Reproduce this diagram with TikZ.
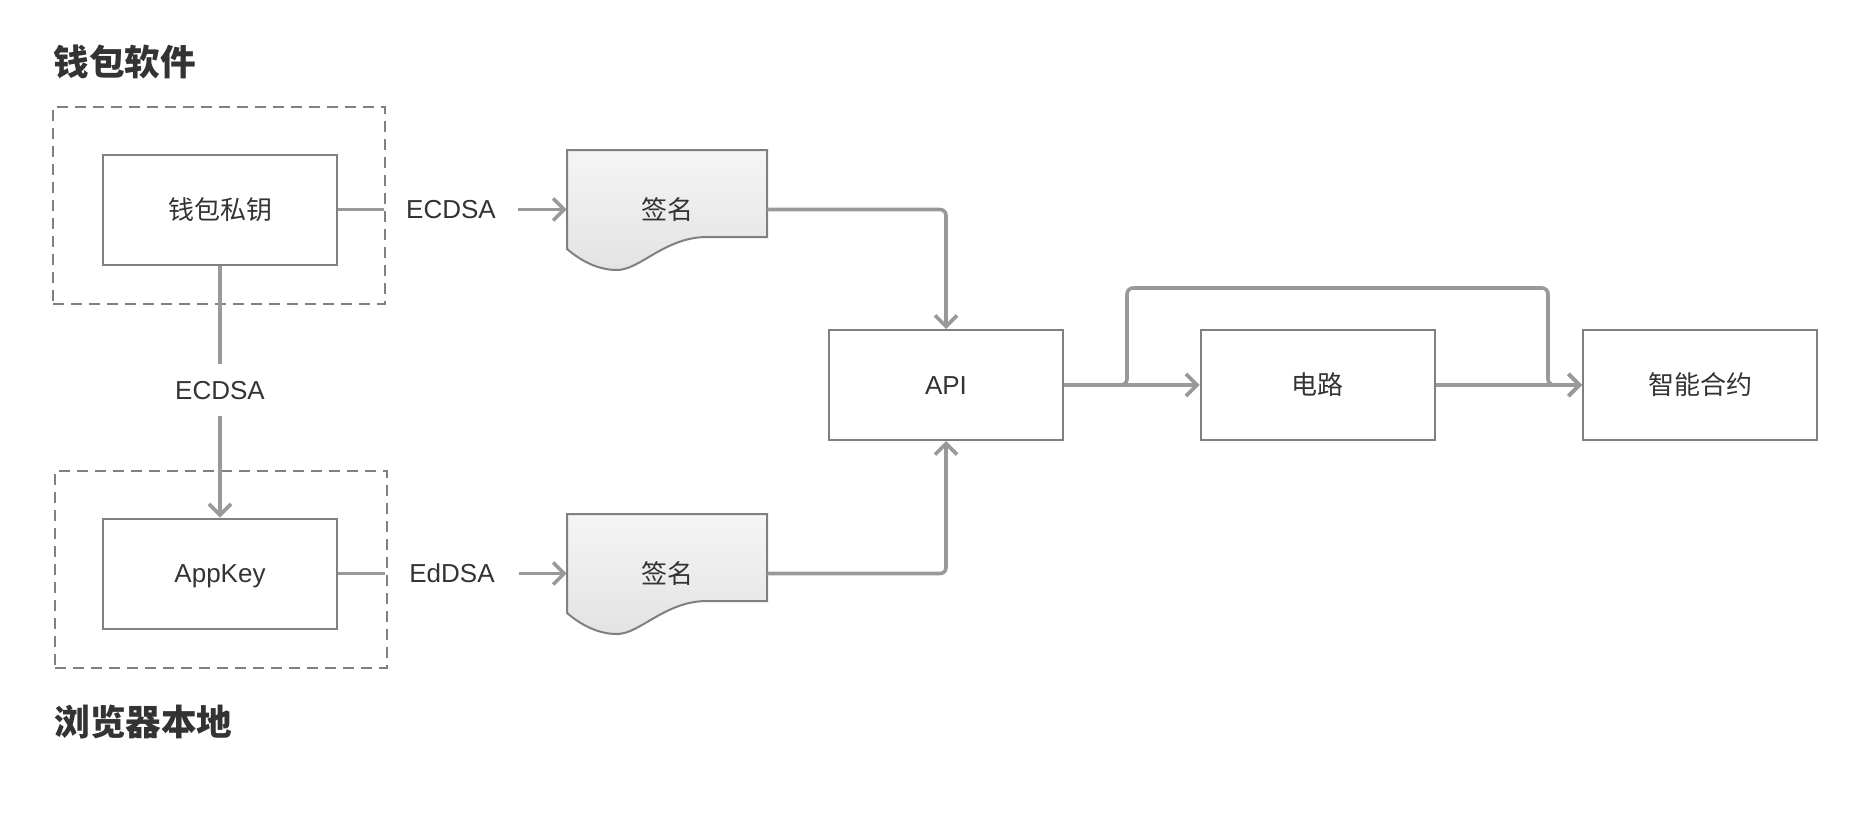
\documentclass[tikz,border=0pt]{standalone}
\usepackage{fontspec}
\setmainfont{Liberation Sans}
\newfontfamily\cjk{Noto Sans CJK SC}
\usetikzlibrary{arrows.meta,calc}
\definecolor{ink}{HTML}{333333}
\definecolor{edgeclr}{HTML}{808080}
\definecolor{wireclr}{HTML}{999999}
\definecolor{paperTop}{HTML}{F5F5F5}
\definecolor{paperBot}{HTML}{E3E3E3}

\begin{document}
\begin{tikzpicture}[x=0.5pt,y=-0.5pt,
  box/.style={draw=edgeclr,line width=1pt,fill=white,minimum width=117pt,
    minimum height=55pt,inner sep=0pt,text=ink,font=\fontsize{13}{15}\selectfont},
  latin/.style={text height=9.3pt,text depth=0pt},
  zone/.style={draw=edgeclr,line width=1pt,dash pattern=on 5.5pt off 3.5pt,
    minimum width=166pt,minimum height=98.5pt,inner sep=0pt},
  grouptitle/.style={anchor=west,inner sep=0pt,text=ink,
    font=\fontsize{17.8}{20}\selectfont\cjk\bfseries},
  hlabel/.style={latin,inner sep=0pt,minimum width=66.5pt,minimum height=14pt,
    text=ink,font=\fontsize{13}{15}\selectfont},
  vlabel/.style={latin,inner sep=0pt,minimum width=44pt,minimum height=26pt,
    text=ink,font=\fontsize{13}{15}\selectfont},
  docnode/.style={inner sep=0pt,minimum width=100pt,minimum height=14pt,
    text=ink,font=\fontsize{13}{15}\selectfont\cjk},
  docshape/.style={draw=edgeclr,line width=1pt,top color=paperTop,bottom color=paperBot},
  wire/.style={draw=wireclr,line width=1.8pt,rounded corners=3pt},
  flow/.style={wire,-{Straight Barb[length=5.5pt,width=11pt]}},
]
\useasboundingbox (0,0) rectangle (1856,816);

% dashed zones and their titles
\node[zone] (walletzone) at (219,205.5) {};
\node[zone] (browserzone) at (220.5,569.5) {};
\node[grouptitle] (walletTitle) at (53,62) {钱包软件};
\node[grouptitle] (browserTitle) at (54,722) {浏览器本地};

% key boxes
\node[box,font=\fontsize{13}{15}\selectfont\cjk] (wkey) at (220,209.5) {钱包私钥};
\node[box,latin] (appkey) at (220,573.5) {AppKey};

% algorithm labels
\node[hlabel] (ecdsaA) at (451,209.5) {ECDSA};
\node[hlabel] (eddsa) at (452,573.5) {EdDSA};
\node[vlabel] (ecdsaB) at (220,390) {ECDSA};

% signature documents
\foreach \y in {150,514} {
  \path[docshape] (567,\y) -- (767,\y) -- (767,{\y+87}) -- (707,{\y+87})
    .. controls (665,{\y+87}) and (640,{\y+120}) .. (617,{\y+120})
    .. controls (597,{\y+120}) and (580,{\y+110}) .. (567,{\y+99}) -- cycle;
}
\node[docnode] (sig1) at (667,209.5) {签名};
\node[docnode] (sig2) at (667,573.5) {签名};

% processing chain
\node[box,latin] (api) at (946,385) {API};
\node[box,font=\fontsize{13}{15}\selectfont\cjk] (circuit) at (1317.5,385) {电路};
\node[box,font=\fontsize{13}{15}\selectfont\cjk] (contract) at (1700,385) {智能合约};

% connectors
\draw[wire] (wkey) -- (ecdsaA);
\draw[flow] (ecdsaA) -- (sig1);
\draw[wire] (appkey) -- (eddsa);
\draw[flow] (eddsa) -- (sig2);
\draw[wire] (wkey) -- (ecdsaB);
\draw[flow] (ecdsaB) -- (appkey);
\draw[flow] (sig1.east) -| (api.north);
\draw[flow] (sig2.east) -| (api.south);
\draw[flow] (api) -- (circuit);
\draw[flow] (circuit) -- (contract);
\draw[flow] (api.east) -- ++(63,0) -- ++(0,-97) -| ($(contract.west)+(-34,0)$) -- (contract.west);
\end{tikzpicture}
\end{document}
